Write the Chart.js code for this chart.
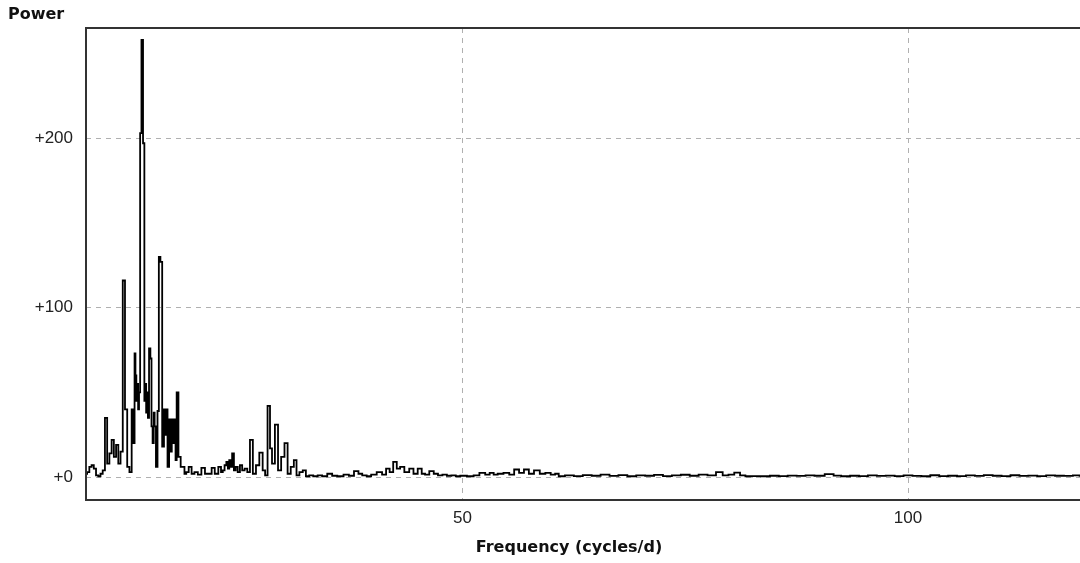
<!DOCTYPE html>
<html>
<head>
<meta charset="utf-8">
<script src="https://cdn.jsdelivr.net/npm/chart.js@4"></script>
<style>
  html, body { margin: 0; padding: 0; background: #fff; }
  #wrap { width: 1080px; height: 563px; position: relative; }
</style>
</head>
<body>
<div id="wrap"><canvas id="grafico"></canvas></div>
<script>
// frequencia (cycles/d) e potencia
const freq = [
  7.75, 8.0, 8.25, 8.5, 8.75, 9.0, 9.25, 9.5, 9.75, 10.0,
  10.25, 10.5, 10.75, 11.0, 11.25, 11.5, 11.75, 12.0, 12.25, 12.5,
  12.75, 13.0, 13.15, 13.25, 13.35, 13.45, 13.55, 13.65, 13.75, 13.9,
  14.05, 14.25, 14.35, 14.45, 14.55, 14.65, 14.75, 14.9, 15.05, 15.15,
  15.3, 15.4, 15.5, 15.7, 15.85, 16.0, 16.2, 16.4, 16.6, 16.7,
  16.8, 17.0, 17.15, 17.3, 17.45, 17.6, 17.75, 17.85, 18.0, 18.25,
  18.5, 18.7, 18.9, 19.1, 19.45, 19.75, 20.1, 20.5, 20.9, 21.3,
  21.7, 22.0, 22.4, 22.8, 23.0, 23.2, 23.4, 23.6, 23.75, 23.9,
  24.05, 24.25, 24.45, 24.65, 24.9, 25.15, 25.4, 25.7, 26.0, 26.3,
  26.65, 27.0, 27.4, 27.75, 27.95, 28.3, 28.5, 28.75, 29.15, 29.45,
  29.85, 30.2, 30.55, 30.9, 31.25, 31.5, 31.9, 32.25, 32.6, 33.0,
  33.5, 34.0, 34.5, 35.15, 35.6, 36.3, 37.0, 37.5, 38.15, 38.5,
  39.0, 39.5, 40.0, 40.75, 41.2, 41.65, 42.0, 42.45, 42.8, 43.2,
  43.75, 44.3, 44.7, 45.25, 45.6, 46.0, 46.55, 47.0, 47.5, 48.0,
  48.5, 49.0, 49.5, 50.0, 51.0, 51.5, 52.3, 52.8, 53.3, 53.7,
  54.2, 55.0, 55.5, 56.1, 56.6, 57.2, 57.7, 58.35, 59.0, 59.6,
  60.2, 60.6, 61.0, 62, 63, 64, 65, 66, 67, 68,
  69, 70, 71, 72, 73, 74, 75, 76, 77, 78,
  78.9, 79.5, 80.2, 80.8, 81.5, 82, 83, 84, 85, 86,
  87, 88, 89, 90, 91.3, 92, 93, 94, 95, 96,
  97, 98, 99, 100, 101, 102, 103, 104, 105, 106,
  107, 108, 109, 110, 111, 112, 113, 114, 115, 116,
  117, 118, 119, 119.5
];

const power = [
  2, 3, 6, 7, 5, 1, 0.5, 2, 4, 35,
  8, 14, 22, 12, 19, 8, 15, 116, 40, 6,
  3, 40, 20, 73, 60, 45, 55, 40, 50, 203,
  258, 197, 45, 55, 38, 50, 35, 76, 70, 30,
  20, 38, 30, 6, 39, 130, 127, 18, 40, 25,
  40, 6, 34, 15, 34, 20, 34, 10, 50, 12,
  6, 6, 2, 3, 6, 2, 3, 1.5, 5.5, 2,
  2, 5.5, 2, 6, 3, 4, 7, 9, 5, 10,
  6, 14, 4, 6, 3, 7, 4, 5, 3, 22,
  2, 7, 14.5, 4, 1, 42, 17, 8, 31, 4,
  12, 20, 2, 6, 10, 1, 3, 4, 0.5, 1,
  0.5, 1, 0.5, 2, 0.8, 0.5, 1.5, 0.8, 3.5, 2,
  1, 0.5, 1.5, 3, 1.5, 5, 3, 9, 5, 6,
  3, 5, 2, 5, 2, 1.5, 3.5, 2, 1, 1.5,
  0.8, 1, 0.5, 0.8, 0.5, 1, 2.5, 1.5, 2.5, 1.5,
  2, 2.5, 1.5, 4.5, 2.5, 4.5, 2, 4, 2, 2.5,
  1.5, 2, 0.5, 1, 0.6, 1.2, 0.8, 1.5, 0.7, 1.2,
  0.5, 1, 0.8, 1.3, 0.6, 1, 1.4, 0.8, 1.5, 1,
  2.9, 1, 1.5, 2.7, 1, 0.5, 0.6, 0.5, 0.8, 0.6,
  0.9, 0.7, 1, 0.8, 1.8, 0.9, 0.5, 0.8, 0.6, 1,
  0.7, 0.9, 0.6, 1, 0.7, 0.5, 1.1, 0.6, 0.8, 0.6,
  1, 0.7, 1.2, 0.8, 0.6, 1.1, 0.7, 0.9, 0.6, 1,
  0.8, 0.7, 1, 0.8
];

const xTicks = [50, 100];
const yTicks = [0, 100, 200];

const tituloY = 'Power';
const tituloX = 'Frequency (cycles/d)';

// moldura e titulos desenhados por cima
const molduraPlugin = {
  id: 'moldura',
  afterDraw(chart) {
    const { ctx, chartArea } = chart;
    ctx.save();
    ctx.strokeStyle = '#333';
    ctx.lineWidth = 2;
    ctx.beginPath();
    ctx.moveTo(chartArea.right + 2, chartArea.top);
    ctx.lineTo(chartArea.left, chartArea.top);
    ctx.lineTo(chartArea.left, chartArea.bottom);
    ctx.lineTo(chartArea.right + 2, chartArea.bottom);
    ctx.stroke();

    ctx.fillStyle = '#111';
    ctx.font = 'bold 16px "DejaVu Sans"';
    ctx.textBaseline = 'middle';
    ctx.textAlign = 'left';
    ctx.fillText(tituloY, 8, 15);
    ctx.textAlign = 'center';
    ctx.fillText(tituloX, 569, 548);
    ctx.restore();
  }
};

const pontos = freq.map((f, i) => ({ x: f, y: power[i] }));

new Chart(document.getElementById('grafico'), {
  type: 'line',
  data: {
    datasets: [{
      data: pontos,
      borderColor: '#000',
      borderWidth: 1.8,
      pointRadius: 0,
      stepped: 'middle',
      fill: false
    }]
  },
  options: {
    responsive: true,
    maintainAspectRatio: false,
    animation: false,
    layout: { padding: { top: 28, right: 0, bottom: 0, left: 0 } },
    plugins: { legend: { display: false }, tooltip: { enabled: false } },
    scales: {
      x: {
        type: 'linear',
        min: 7.75,
        max: 119.3,
        afterBuildTicks: (scale) => { scale.ticks = xTicks.map((v) => ({ value: v })); },
        afterFit: (scale) => { scale.height = 63; },
        grid: { color: '#b0b0b0', lineWidth: 1, drawTicks: false },
        border: { display: false, dash: [5, 5] },
        ticks: {
          padding: 8,
          color: '#222',
          font: { family: 'Liberation Sans', size: 17 },
          maxRotation: 0
        }
      },
      y: {
        type: 'linear',
        min: -13.5,
        max: 265,
        afterBuildTicks: (scale) => { scale.ticks = yTicks.map((v) => ({ value: v })); },
        afterFit: (scale) => { scale.width = 86; },
        grid: { color: '#b0b0b0', lineWidth: 1, drawTicks: false },
        border: { display: false, dash: [5, 5] },
        ticks: {
          padding: 13,
          color: '#222',
          font: { family: 'Liberation Sans', size: 17 },
          callback: (v) => '+' + v
        }
      }
    }
  },
  plugins: [molduraPlugin]
});
</script>
</body>
</html>
